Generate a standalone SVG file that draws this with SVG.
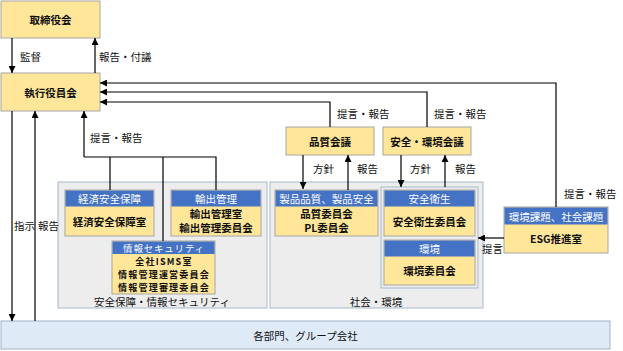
<svg xmlns="http://www.w3.org/2000/svg" width="623" height="351" viewBox="0 0 623 351">
<defs>
<marker id="ah" viewBox="0 0 10 10" refX="10" refY="5" markerWidth="7" markerHeight="7" markerUnits="userSpaceOnUse" orient="auto">
<path d="M0,0 L10,5 L0,10 z" fill="#000"/>
</marker>
<style>
text{font-family:"Noto Sans CJK JP","Noto Sans",sans-serif;font-size:10.5px;text-anchor:middle;dominant-baseline:central;fill:#111}
.b{font-weight:bold}
.h{fill:#fff}
.s{font-size:9px;letter-spacing:1.2px}
.hs{font-size:9.5px;letter-spacing:0.8px}
.lab{text-anchor:start}
.yb{fill:#ffe699;stroke:#a6a6a6;stroke-width:1}
.hd{fill:#4472c4;stroke:none}
.grp{fill:#ededed;stroke:#a8b8cc;stroke-width:1}
.bus{fill:#deebf7;stroke:#9fb3cc;stroke-width:1}
.c{fill:none;stroke:#000;stroke-width:1.2}
.ca{fill:none;stroke:#000;stroke-width:1.2;marker-end:url(#ah)}
</style>
</defs>
<rect width="623" height="351" fill="#fff"/>

<g id="group-security">
<rect class="grp" x="58" y="182" width="209" height="126"/>
<text x="162" y="301.5">安全保障・情報セキュリティ</text>
</g>
<g id="group-society">
<rect class="grp" x="270" y="182" width="213" height="126"/>
<text x="376" y="301.5">社会・環境</text>
</g>
<g id="group-safety-env">
<rect class="grp" x="381" y="187" width="97" height="101"/>
</g>

<g id="board">
<rect class="yb" x="1" y="1" width="99" height="37"/>
<text class="b" x="50.5" y="19.5">取締役会</text>
</g>
<g id="exec">
<rect class="yb" x="1" y="73" width="99" height="38"/>
<text class="b" x="50.5" y="92">執行役員会</text>
</g>
<g id="quality-meeting">
<rect class="yb" x="286" y="127" width="88" height="28"/>
<text class="b" x="330" y="141">品質会議</text>
</g>
<g id="safety-env-meeting">
<rect class="yb" x="383" y="127" width="88" height="28"/>
<text class="b" x="427" y="141">安全・環境会議</text>
</g>

<g id="econ-security">
<rect class="yb" x="65" y="190" width="89" height="46"/>
<rect class="hd" x="65.5" y="190.5" width="88" height="16"/>
<text class="h" x="109.5" y="198.5">経済安全保障</text>
<text class="b" x="109.5" y="221">経済安全保障室</text>
</g>
<g id="export">
<rect class="yb" x="171" y="190" width="90" height="46"/>
<rect class="hd" x="171.5" y="190.5" width="89" height="16"/>
<text class="h" x="216" y="198.5">輸出管理</text>
<text class="b" x="216" y="213">輸出管理室</text>
<text class="b" x="216" y="227">輸出管理委員会</text>
</g>
<g id="infosec">
<rect class="yb" x="112" y="241" width="103" height="53"/>
<rect class="hd" x="112.5" y="241.5" width="102" height="12.5"/>
<text class="h hs" x="164" y="247.5">情報セキュリティ</text>
<text class="b s" x="164" y="261">全社ISMS室</text>
<text class="b s" x="164" y="274.1">情報管理運営委員会</text>
<text class="b s" x="164" y="287.2">情報管理審理委員会</text>
</g>
<g id="product">
<rect class="yb" x="275" y="190" width="103" height="46"/>
<rect class="hd" x="275.5" y="190.5" width="102" height="16"/>
<text class="h" x="326.5" y="198.5">製品品質、製品安全</text>
<text class="b" x="326.5" y="213">品質委員会</text>
<text class="b" x="326.5" y="227">PL委員会</text>
</g>
<g id="health">
<rect class="yb" x="384" y="190" width="91" height="46"/>
<rect class="hd" x="384.5" y="190.5" width="90" height="16"/>
<text class="h" x="429.5" y="198.5">安全衛生</text>
<text class="b" x="429.5" y="221">安全衛生委員会</text>
</g>
<g id="environment">
<rect class="yb" x="384" y="240" width="91" height="45"/>
<rect class="hd" x="384.5" y="240.5" width="90" height="16"/>
<text class="h" x="429.5" y="248.5">環境</text>
<text class="b" x="429.5" y="270">環境委員会</text>
</g>
<g id="esg">
<rect class="yb" x="504" y="207" width="104" height="46"/>
<rect class="hd" x="504.5" y="207.5" width="103" height="17"/>
<text class="h" x="556" y="216">環境課題、社会課題</text>
<text class="b" x="556" y="238">ESG推進室</text>
</g>
<g id="departments">
<rect class="bus" x="1" y="321" width="609" height="28"/>
<text x="305.5" y="335">各部門、グループ会社</text>
</g>

<g id="connectors">
<path class="ca" d="M12,38 V73"/>
<path class="ca" d="M95,73 V38"/>
<path class="ca" d="M556,207 V83 H100"/>
<path class="ca" d="M427,127 V92 H100"/>
<path class="ca" d="M330,127 V102 H100"/>
<path class="ca" d="M303,155 V189"/>
<path class="ca" d="M348,190 V155"/>
<path class="ca" d="M401,155 V187"/>
<path class="ca" d="M445,187 V155"/>
<path class="ca" d="M84,157 V111"/>
<path class="c" d="M84,157 H216 V190 M110,157 V190 M163,157 V241"/>
<path class="ca" d="M12,111 V321"/>
<path class="ca" d="M35,321 V111"/>
<path class="ca" d="M504,238 H478"/>
<text class="lab" x="20" y="56">監督</text>
<text class="lab" x="99" y="56">報告・付議</text>
<text class="lab" x="337" y="113">提言・報告</text>
<text class="lab" x="434" y="113">提言・報告</text>
<text class="lab" x="90" y="137">提言・報告</text>
<text class="lab" x="313" y="168">方針</text>
<text class="lab" x="357" y="168">報告</text>
<text class="lab" x="410" y="168">方針</text>
<text class="lab" x="455" y="168">報告</text>
<text class="lab" x="564" y="193">提言・報告</text>
<text class="lab" x="482" y="248">提言</text>
<text class="lab" x="14" y="225">指示</text>
<text class="lab" x="38" y="225">報告</text>
</g>
</svg>
